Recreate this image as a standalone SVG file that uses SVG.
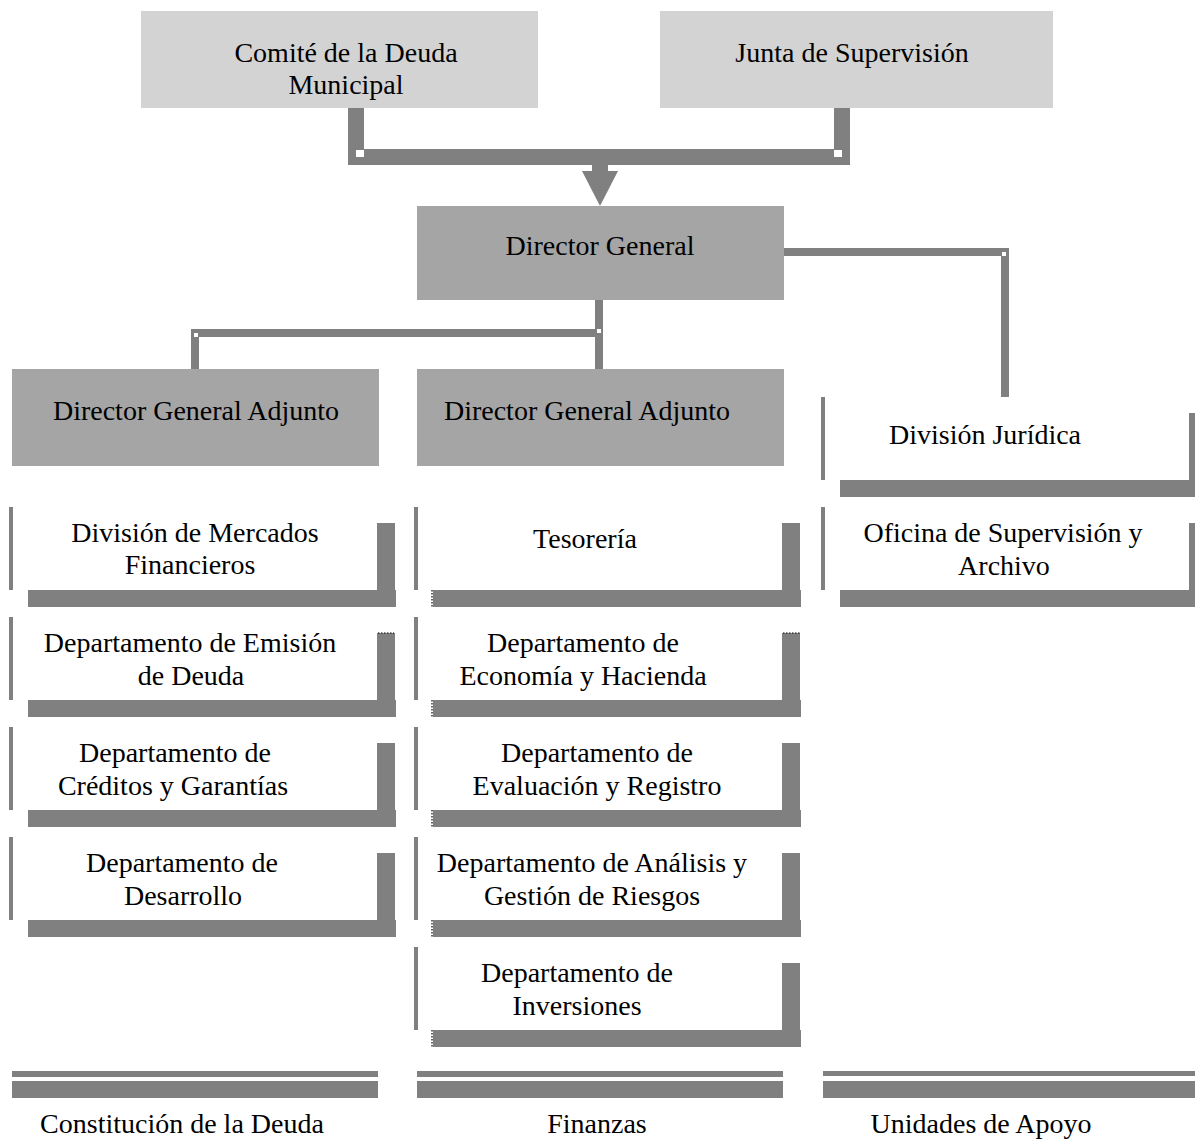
<svg xmlns="http://www.w3.org/2000/svg" xmlns:xlink="http://www.w3.org/1999/xlink" width="1195" height="1140" viewBox="0 0 1195 1140">
  <style>
    .top { fill: #d3d3d3; }
    .head { fill: #a5a5a5; }
    .bar { fill: #808080; }
    .gap { fill: #ffffff; }
    .lbl { font-family: "Liberation Serif", "Times New Roman", serif; font-size: 28px; fill: #000000; text-anchor: middle; }
    .dots { stroke: #000000; stroke-width: 1.2; stroke-dasharray: 1.5 1.5; fill: none; }
  </style>
  <defs>
    <!-- department frame: thin left rule, heavy right and bottom shadow bars -->
    <g id="frame">
      <rect class="bar" x="0" y="0" width="4" height="83"/>
      <rect class="bar" x="19" y="83" width="368" height="17"/>
      <rect class="bar" x="368" y="16" width="18" height="84"/>
    </g>
  </defs>
  <rect width="1195" height="1140" fill="#ffffff"/>

  <!-- connectors -->
  <g id="connectors">
    <!-- bracket joining the two boards, arrow into Director General -->
    <rect class="bar" x="348" y="108" width="16" height="57"/>
    <rect class="bar" x="834" y="108" width="16" height="57"/>
    <rect class="bar" x="348" y="149" width="502" height="16"/>
    <rect class="gap" x="356" y="150" width="8" height="7"/>
    <rect class="gap" x="834" y="150" width="8" height="7"/>
    <rect class="bar" x="592" y="165" width="16" height="6"/>
    <polygon class="bar" points="582,171 618,171 600,206"/>
    <!-- Director General to the two deputies -->
    <rect class="bar" x="595" y="300" width="8" height="69"/>
    <rect class="bar" x="191" y="329" width="412" height="8"/>
    <rect class="bar" x="191" y="329" width="8" height="40"/>
    <rect class="gap" x="597" y="329" width="4" height="4"/>
    <rect class="gap" x="194" y="333" width="4" height="4"/>
    <!-- Director General to support units -->
    <rect class="bar" x="784" y="248" width="225" height="8"/>
    <rect class="bar" x="1001" y="248" width="8" height="149"/>
    <rect class="gap" x="1002" y="252" width="4" height="4"/>
  </g>

  <!-- governing boards -->
  <g id="comite">
    <rect class="top" x="141" y="11" width="397" height="97"/>
    <text class="lbl" x="346" y="62">Comité de la Deuda</text>
    <text class="lbl" x="346" y="94">Municipal</text>
  </g>
  <g id="junta">
    <rect class="top" x="660" y="11" width="393" height="97"/>
    <text class="lbl" x="852" y="62">Junta de Supervisión</text>
  </g>

  <g id="director-general">
    <rect class="head" x="417" y="206" width="367" height="94"/>
    <text class="lbl" x="600" y="255">Director General</text>
  </g>
  <g id="adjunto-1">
    <rect class="head" x="12" y="369" width="367" height="97"/>
    <text class="lbl" x="196" y="420">Director General Adjunto</text>
  </g>
  <g id="adjunto-2">
    <rect class="head" x="417" y="369" width="367" height="97"/>
    <text class="lbl" x="587" y="420">Director General Adjunto</text>
  </g>

  <!-- Constitución de la Deuda column -->
  <g id="mercados">
    <use xlink:href="#frame" x="9" y="507"/>
    <text class="lbl" x="195" y="542">División de Mercados</text>
    <text class="lbl" x="190" y="574">Financieros</text>
  </g>
  <g id="emision">
    <use xlink:href="#frame" x="9" y="617"/>
    <line class="dots" x1="378" y1="633" x2="394" y2="633"/>
    <text class="lbl" x="190" y="652">Departamento de Emisión</text>
    <text class="lbl" x="191" y="685">de Deuda</text>
  </g>
  <g id="creditos">
    <use xlink:href="#frame" x="9" y="727"/>
    <text class="lbl" x="175" y="762">Departamento de</text>
    <text class="lbl" x="173" y="795">Créditos y Garantías</text>
  </g>
  <g id="desarrollo">
    <use xlink:href="#frame" x="9" y="837"/>
    <text class="lbl" x="182" y="872">Departamento de</text>
    <text class="lbl" x="183" y="905">Desarrollo</text>
  </g>

  <!-- Finanzas column -->
  <g id="tesoreria">
    <use xlink:href="#frame" x="414" y="507"/>
    <line class="dots" x1="432" y1="590" x2="432" y2="607"/>
    <text class="lbl" x="585" y="548">Tesorería</text>
  </g>
  <g id="economia">
    <use xlink:href="#frame" x="414" y="617"/>
    <line class="dots" x1="432" y1="700" x2="432" y2="717"/>
    <line class="dots" x1="783" y1="633" x2="800" y2="633"/>
    <text class="lbl" x="583" y="652">Departamento de</text>
    <text class="lbl" x="583" y="685">Economía y Hacienda</text>
  </g>
  <g id="evaluacion">
    <use xlink:href="#frame" x="414" y="727"/>
    <line class="dots" x1="432" y1="810" x2="432" y2="827"/>
    <text class="lbl" x="597" y="762">Departamento de</text>
    <text class="lbl" x="597" y="795">Evaluación y Registro</text>
  </g>
  <g id="riesgos">
    <use xlink:href="#frame" x="414" y="837"/>
    <line class="dots" x1="432" y1="920" x2="432" y2="937"/>
    <text class="lbl" x="592" y="872">Departamento de Análisis y</text>
    <text class="lbl" x="592" y="905">Gestión de Riesgos</text>
  </g>
  <g id="inversiones">
    <use xlink:href="#frame" x="414" y="947"/>
    <line class="dots" x1="432" y1="1030" x2="432" y2="1047"/>
    <text class="lbl" x="577" y="982">Departamento de</text>
    <text class="lbl" x="577" y="1015">Inversiones</text>
  </g>

  <!-- Unidades de Apoyo column -->
  <g id="juridica">
    <use xlink:href="#frame" x="821" y="397"/>
    <text class="lbl" x="985" y="444">División Jurídica</text>
  </g>
  <g id="oficina">
    <use xlink:href="#frame" x="821" y="507"/>
    <text class="lbl" x="1003" y="542">Oficina de Supervisión y</text>
    <text class="lbl" x="1004" y="575">Archivo</text>
  </g>

  <!-- column footers -->
  <g id="footer-constitucion">
    <rect class="bar" x="12" y="1071" width="366" height="6"/>
    <rect class="bar" x="12" y="1081" width="366" height="17"/>
    <text class="lbl" x="182" y="1133">Constitución de la Deuda</text>
  </g>
  <g id="footer-finanzas">
    <rect class="bar" x="417" y="1071" width="366" height="6"/>
    <rect class="bar" x="417" y="1081" width="366" height="17"/>
    <text class="lbl" x="597" y="1133">Finanzas</text>
  </g>
  <g id="footer-apoyo">
    <rect class="bar" x="823" y="1071" width="372" height="5"/>
    <rect class="bar" x="823" y="1081" width="372" height="17"/>
    <text class="lbl" x="981" y="1133">Unidades de Apoyo</text>
  </g>
</svg>
